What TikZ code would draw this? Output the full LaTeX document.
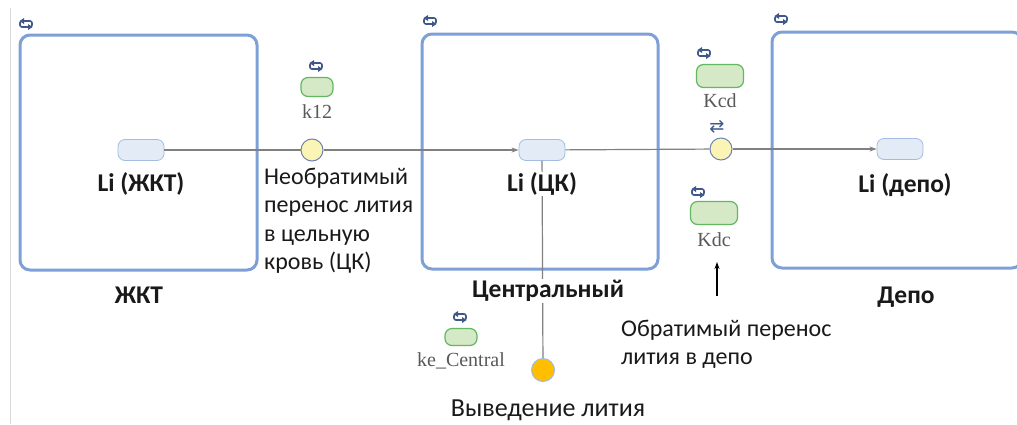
\documentclass[tikz,border=0pt]{standalone}
\usepackage{fontspec}
\setmainfont{Carlito}
\newfontfamily\serifl{Liberation Serif}
\newfontfamily\djv{DejaVu Sans}
\usetikzlibrary{arrows.meta}
\definecolor{boxblue}{HTML}{7FA0D6}
\definecolor{spfill}{HTML}{E3EBF6}
\definecolor{spdraw}{HTML}{A3BCE2}
\definecolor{gfill}{HTML}{D5E9C6}
\definecolor{gdraw}{HTML}{62B862}
\definecolor{yfill}{HTML}{FBF5B5}
\definecolor{cdraw}{HTML}{6F80B2}
\definecolor{ofill}{HTML}{FFBF00}
\definecolor{icon}{HTML}{3F5789}
\definecolor{flowgray}{HTML}{808080}
\tikzset{
  compbox/.style={draw=boxblue, line width=3pt, rounded corners=10pt, fill=none},
  species/.style={draw=spdraw, fill=spfill, line width=0.8pt, rounded corners=7pt, minimum width=46pt, minimum height=21pt, inner sep=0pt},
  param/.style={draw=gdraw, fill=gfill, line width=1.2pt, rounded corners=7pt, inner sep=0pt},
  reac/.style={circle, draw=cdraw, fill=yfill, line width=1pt, minimum size=22pt, inner sep=0pt},
  sink/.style={circle, draw=spdraw, fill=ofill, line width=1pt, minimum size=23pt, inner sep=0pt},
  bold lbl/.style={font=\fontsize{25.5}{30}\selectfont\bfseries, text=black!90, fill=white, inner sep=1pt},
  desc/.style={font=\fontsize{24}{28.3}\selectfont, text=black!90, inner sep=0pt, align=left},
  plbl/.style={font=\serifl\fontsize{20}{24}\selectfont, text=black!65, inner sep=0pt},
  flow/.style={draw=flowgray, line width=1.2pt},
  flowarr/.style={flow, -{Stealth[length=7pt,width=5pt]}},
  syncicon/.pic={\draw[icon, line width=1.6pt, rounded corners=2pt] (-6,-3) rectangle (6,3);
                 \fill[icon] (-6.5,-3) -- (-2,-6) -- (-2,0) -- cycle;
                 \fill[icon] (6.5,3) -- (2,6) -- (2,0) -- cycle;}
}
\begin{document}
\begin{tikzpicture}[x=1pt,y=-1pt]
\useasboundingbox (0,0) rectangle (1017,424);
\fill[white] (0,0) rectangle (1017,424);
\clip (0,0) rectangle (1017,424);
\draw[black!15, line width=1pt] (10,8) -- (10,424);
% compartments
\draw[compbox] (20,35) rectangle (257,270);
\draw[compbox] (422,34) rectangle (658,269);
\draw[compbox] (772,32) rectangle (1022,268);
\pic at (26,24) {syncicon};
\pic at (430,21) {syncicon};
\pic at (781,19) {syncicon};
% species
\node[species] (gut) at (141,150) {};
\node[species] (cen) at (542,150) {};
\node[species] (dep) at (900,149) {};
% reactions
\node[reac] (r1) at (312,150) {};
\node[reac] (r2) at (721,149) {};
\node[sink] (r3) at (543,370) {};
\draw[flow] (gut) -- (r1);
\draw[flowarr] (r1) -- (cen);
\draw[flow] (cen) -- (r2);
\draw[flowarr] (r2) -- (dep);
\draw[flow] (cen) -- (r3);
\node[font=\djv\fontsize{18}{18}\selectfont, text=icon, inner sep=0pt] (rev) at (717,127) {⇄};
% labels
\node[bold lbl] (gutl) at (141,184) {Li (ЖКТ)};
\node[bold lbl] (cenl) at (542,184) {Li (ЦК)};
\node[bold lbl] (depl) at (905,185) {Li (депо)};
\node[bold lbl] (gutc) at (139,295) {ЖКТ};
\node[bold lbl] (cenc) at (548,291) {Центральный};
\node[bold lbl] (depc) at (906,297) {Депо};
% parameters
\node[param, minimum width=32pt, minimum height=19pt] (k12) at (317,87) {};
\pic at (316,66) {syncicon};
\node[plbl] (k12l) at (317,112) {k12};
\node[param, minimum width=47pt, minimum height=23pt] (kcd) at (720,76) {};
\pic at (704,53) {syncicon};
\node[plbl] (kcdl) at (720,101) {Kcd};
\node[param, minimum width=47pt, minimum height=23pt] (kdc) at (714,213) {};
\pic at (698,192) {syncicon};
\node[plbl] (kdcl) at (714,240) {Kdc};
\node[param, minimum width=32pt, minimum height=17pt] (ke) at (461,337) {};
\pic at (460,317) {syncicon};
\node[plbl] (kel) at (461,361) {ke\_Central};
% descriptions
\node[desc, anchor=north west] (d1) at (264,168) {Необратимый\\перенос лития\\в цельную\\кровь (ЦК)};
\node[desc, anchor=north west] (d2) at (621,320) {Обратимый перенос\\лития в депо};
\node[desc, font=\fontsize{26}{30}\selectfont] (d3) at (548,410) {Выведение лития};
\coordinate (atail) at (717,296);
\coordinate (ahead) at (717,262);
\draw[black, line width=1.3pt, -{Stealth[length=7pt,width=5pt]}] (atail) -- (ahead);
\end{tikzpicture}
\end{document}
